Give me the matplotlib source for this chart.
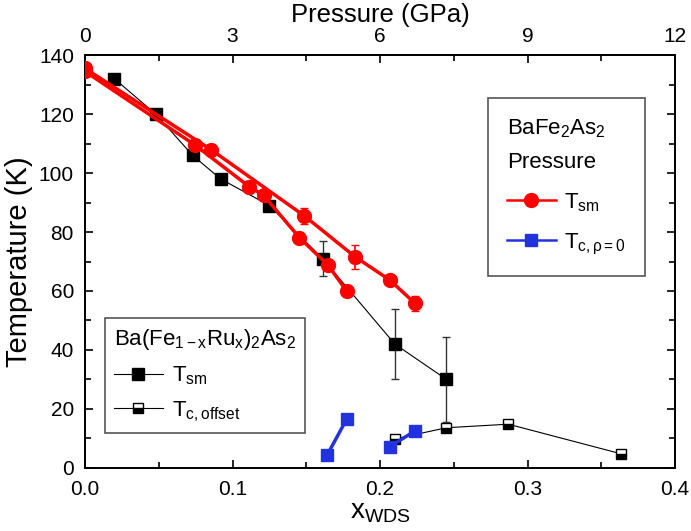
import numpy as np
import matplotlib
matplotlib.use('Agg')
import matplotlib.pyplot as plt
from matplotlib.lines import Line2D
from matplotlib.ticker import MultipleLocator

plt.rcParams['font.family'] = ['Liberation Sans', 'DejaVu Sans']
plt.rcParams['mathtext.fontset'] = 'custom'
plt.rcParams['mathtext.rm'] = 'Liberation Sans'
plt.rcParams['mathtext.it'] = 'Liberation Sans:italic'

# Ba(Fe1-xRux)2As2 vs x_WDS
x_ru_sm = [0.020, 0.048, 0.073, 0.092, 0.125, 0.161, 0.210, 0.245]
t_ru_sm = [132, 120, 106, 98, 89, 71, 42, 30]
e_ru_sm = [0, 0, 0, 0, 0, 6, 12, 14.5]

x_ru_tc = [0.210, 0.245, 0.287, 0.363]
t_ru_tc = [9.8, 13.6, 14.8, 4.8]

# BaFe2As2 under pressure (GPa)
p_sm_a = [0, 2.56, 4.46, 5.50, 6.20, 6.71]
t_sm_a = [135.5, 108, 85.5, 71.5, 63.7, 55.8]
e_sm_a = [0, 0, 2.7, 4, 0, 2.5]

p_sm_b = [0, 2.24, 3.34, 3.63, 4.36, 4.94, 5.32]
t_sm_b = [134.5, 109.5, 95.4, 92.5, 78.1, 68.8, 60.0]
e_sm_b = [0, 1.5, 2, 0, 1, 0, 0]

p_tc = [4.93, 5.32, np.nan, 6.20, 6.71]
t_tc = [4.5, 16.5, np.nan, 7.2, 12.5]

red = '#ff0000'
blue = '#2233dd'

fig = plt.figure(figsize=(6.91, 5.31), dpi=100)
ax = fig.add_axes([0.123, 0.119, 0.854, 0.777])
ax2 = ax.twiny()

ax.errorbar(x_ru_sm, t_ru_sm, yerr=e_ru_sm, color='black', lw=0.8, marker='s', ms=8,
            ecolor='#333333', elinewidth=1, capsize=3, zorder=3)
ax.plot(x_ru_tc, t_ru_tc, color='black', lw=0.8, marker='s', ms=7, mfc='black',
        mfcalt='white', fillstyle='bottom', mec='black', mew=1, zorder=3)

for p, t, e in [(p_sm_a, t_sm_a, e_sm_a), (p_sm_b, t_sm_b, e_sm_b)]:
    ax2.errorbar(p, t, yerr=e, color=red, lw=2.5, marker='o', ms=10,
                 elinewidth=1.2, capsize=3, zorder=4)
ax2.plot(p_tc, t_tc, color=blue, lw=2.5, marker='s', ms=8, zorder=4)

ax.set_xlim(0, 0.4)
ax.set_ylim(0, 140)
ax2.set_xlim(0, 12)
ax.xaxis.set_major_locator(MultipleLocator(0.1))
ax.xaxis.set_minor_locator(MultipleLocator(0.05))
ax.yaxis.set_major_locator(MultipleLocator(20))
ax.yaxis.set_minor_locator(MultipleLocator(10))
ax2.xaxis.set_major_locator(MultipleLocator(3))
ax2.xaxis.set_minor_locator(MultipleLocator(1.5))
ax.xaxis.set_major_formatter(plt.FuncFormatter(lambda v, _: f'{v:.1f}'))

ax.tick_params(which='both', direction='in', right=True, top=False, labelsize=15, width=1.2)
ax.tick_params(which='major', length=6)
ax.tick_params(which='minor', length=4)
ax.tick_params(axis='x', which='major', pad=9)
ax.tick_params(axis='y', which='major', pad=8)
ax2.tick_params(which='both', direction='in', labelsize=15, width=1.2)
ax2.tick_params(which='major', length=6, pad=7)
ax2.tick_params(which='minor', length=4)
for a in (ax, ax2):
    for s in a.spines.values():
        s.set_linewidth(1.3)

ax.set_xlabel(r'x$_{\mathregular{WDS}}$', fontsize=20, labelpad=0)
ax.set_ylabel('Temperature (K)', fontsize=21, labelpad=4)
ax2.set_xlabel('Pressure (GPa)', fontsize=18.5, labelpad=3)

h_ru = [Line2D([], [], color='black', lw=0.8, marker='s', ms=8),
        Line2D([], [], color='black', lw=0.8, marker='s', ms=7, mfc='black',
               mfcalt='white', fillstyle='bottom', mec='black')]
leg1 = ax2.legend(h_ru, [r'T$_{\mathregular{sm}}$', r'T$_{\mathregular{c,offset}}$'],
                  title=r'Ba(Fe$_{\mathregular{1-x}}$Ru$_{\mathregular{x}}$)$_2$As$_2$',
                  loc='lower left', bbox_to_anchor=(0.034, 0.085), fontsize=16,
                  title_fontsize=16, alignment='left', fancybox=False, edgecolor='#555555',
                  framealpha=1, borderpad=0.4, handlelength=2.2, labelspacing=0.55,
                  handletextpad=0.4, borderaxespad=0)
leg1.get_frame().set_linewidth(1.2)

h_p = [Line2D([], [], color=red, lw=1.8, marker='o', ms=10),
       Line2D([], [], color=blue, lw=1.8, marker='s', ms=8)]
leg2 = ax2.legend(h_p, [r'T$_{\mathregular{sm}}$', r'T$_{\mathregular{c,\rho=0}}$'],
                  title='BaFe$_2$As$_2$\nPressure',
                  loc='upper right', bbox_to_anchor=(0.949, 0.896), fontsize=16,
                  title_fontsize=16, alignment='left', fancybox=False, edgecolor='#555555',
                  framealpha=1, borderpad=0.85, handlelength=2.2, labelspacing=0.8,
                  handletextpad=0.4, borderaxespad=0)
leg2.get_title().set_linespacing(1.8)
leg2.get_frame().set_linewidth(1.2)
ax2.add_artist(leg1)

fig.savefig('out.png', dpi=100)
